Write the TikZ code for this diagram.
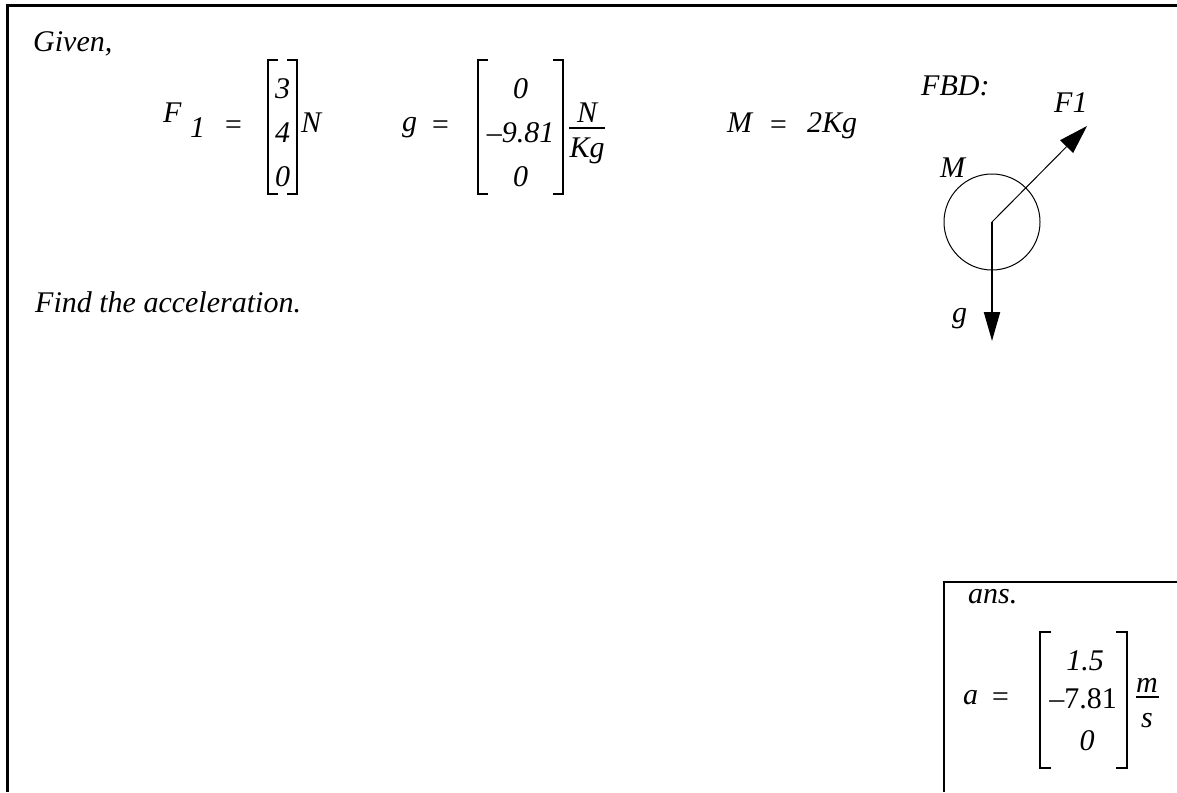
\documentclass[tikz,border=0pt]{standalone}
\usepackage{fontspec}
\setmainfont{Liberation Serif}
\usetikzlibrary{arrows.meta}
\begin{document}
\begin{tikzpicture}[x=1pt,y=-1pt,
  every node/.style={inner sep=0pt, font=\fontsize{30}{36}\selectfont\itshape},
  tx/.style={anchor=base west},
  tc/.style={anchor=base},
  brk/.style={line width=2pt},
  frame/.style={line width=3pt},
  fthin/.style={line width=1pt, -{Triangle[length=29pt,width=18pt]}},
  fthick/.style={line width=2pt, -{Triangle[length=29pt,width=16pt]}}]
\useasboundingbox (0,0) rectangle (1177,792);
\draw[frame] (7,792) -- (7,6) -- (1177,6);
% Given
\node[tx] (given) at (33,52) {Given,};
\node[tx] (find) at (35,312) {Find the acceleration.};
% F1 equation
\node[tx] (F) at (163,122) {F};
\node[tx] (Fs) at (190,137) {1};
\node[tx] (Feq) at (223,134) {=};
\draw[brk] (278,60) -- (268,60) -- (268,194) -- (278,194);
\draw[brk] (287,60) -- (297,60) -- (297,194) -- (287,194);
\node[tc] (f1) at (282.5,98) {3};
\node[tc] (f2) at (282.5,142) {4};
\node[tc] (f3) at (282.5,186) {0};
\node[tx] (FN) at (301,132) {N};
% g equation
\node[tx] (g) at (402,131) {g};
\node[tx] (geq) at (430,134) {=};
\draw[brk] (488,60) -- (478,60) -- (478,194) -- (488,194);
\draw[brk] (553,60) -- (563,60) -- (563,194) -- (553,194);
\node[tc] (g1) at (520.5,98) {0};
\node[tc] (g2) at (520.5,142) {–9.81};
\node[tc] (g3) at (520.5,186) {0};
\node[tc] (gN) at (587,122) {N};
\draw[line width=1.2pt] (569,128) -- (605,128);
\node[tc] (gK) at (587,157) {Kg};
% M
\node[tx] (Mm) at (727,132) {M};
\node[tx] (Meq) at (768,134) {=};
\node[tx] (Mv) at (807,132) {2Kg};
% FBD
\node[tx] (fbd) at (921,95) {FBD:};
\node[tx] (F1l) at (1054,112) {F1};
\node[tx] (Ml) at (940,177) {M};
\node[tx] (gl) at (952,322) {g};
\coordinate (c) at (992,222);
\node[draw, circle, minimum size=96pt, line width=1pt] (ball) at (c) {};
\coordinate (tipF) at (1087,126);
\coordinate (tipg) at (992,341);
\draw[fthin] (ball.center) -- (tipF);
\draw[fthick] (ball.center) -- (tipg);
% ans box
\draw[line width=2.2pt] (944,792) -- (944,582) -- (1177,582);
\node[tx] (ans) at (968,603) {ans.};
\node[tx] (a) at (963,704) {a};
\node[tx] (aeq) at (990,706) {=};
\draw[brk] (1051,632) -- (1040,632) -- (1040,768) -- (1051,768);
\draw[brk] (1116,632) -- (1127,632) -- (1127,768) -- (1116,768);
\node[tc] (a1) at (1085,670) {1.5};
\node[tc] (a2) at (1083,708) {\upshape –7.81};
\node[tc] (a3) at (1087,750) {0};
\node[tc] (am) at (1147,692) {m};
\draw[line width=1.2pt] (1136,697) -- (1159,697);
\node[tc] (as) at (1147,727) {s};
\end{tikzpicture}
\end{document}
